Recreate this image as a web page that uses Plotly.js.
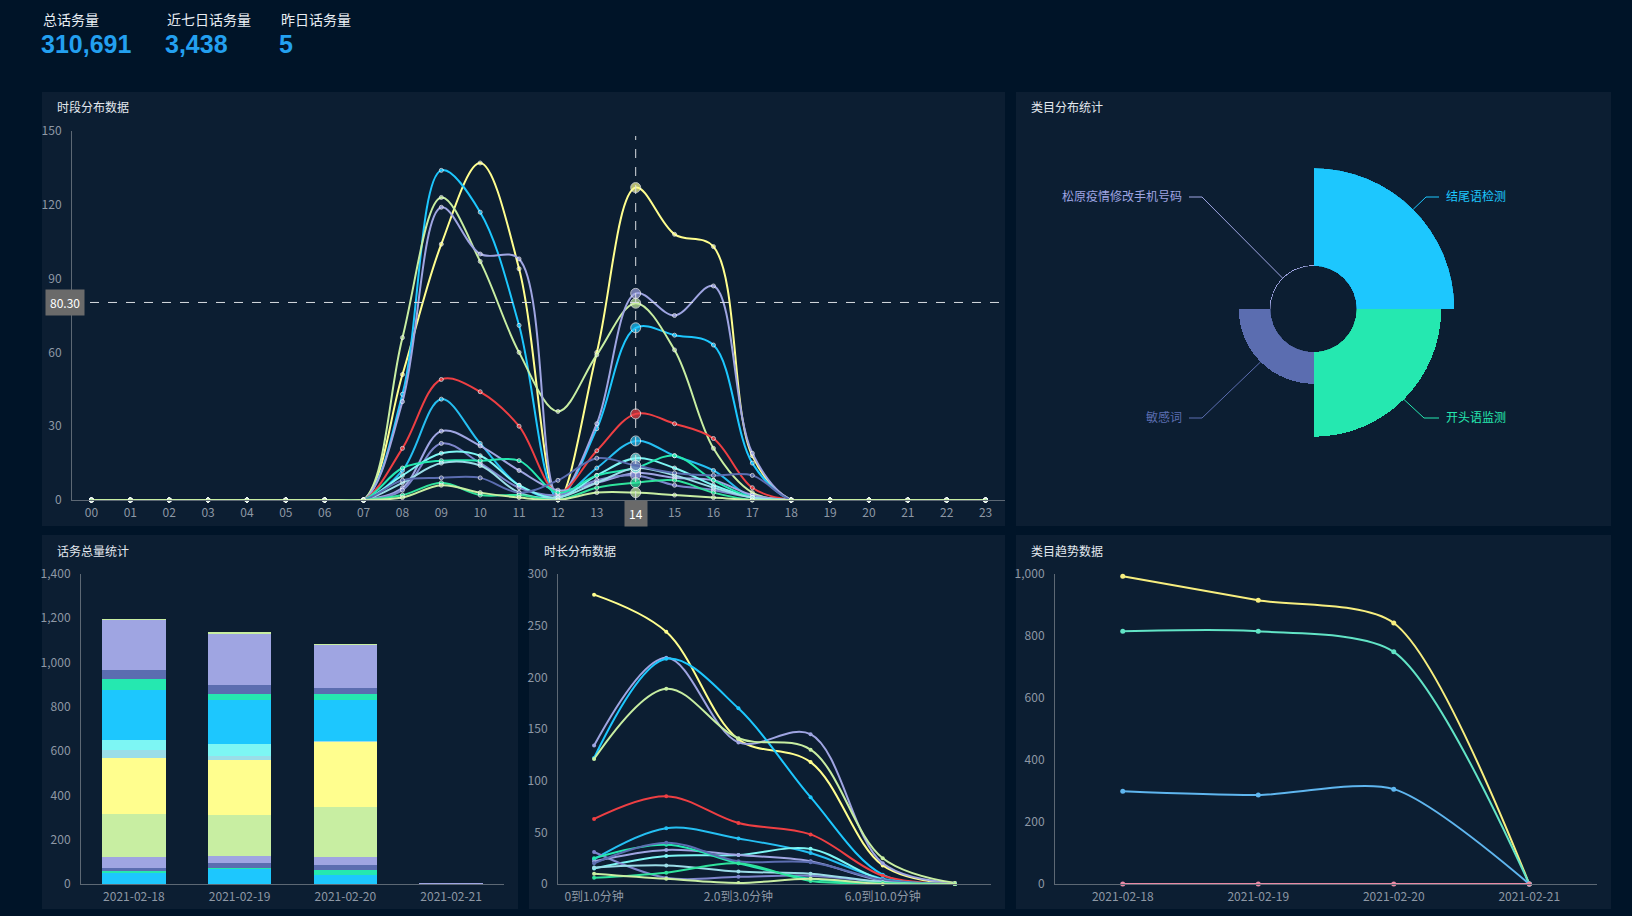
<!DOCTYPE html>
<html><head><meta charset="utf-8">
<script src="https://cdn.plot.ly/plotly-3.0.1.min.js"></script>
<style>html,body{margin:0;padding:0;background:#001428;overflow:hidden}#chart{width:1632px;height:916px}</style>
</head><body><div id="chart"></div><script>
const W=1632,H=916;
const px=x=>x/W, py=y=>1-y/H;

// ---------- header stats ----------
const statLabels=['总话务量','近七日话务量','昨日话务量'];
const statValues=[310691,3438,5];

// ---------- 时段分布数据 ----------
const hours=['00','01','02','03','04','05','06','07','08','09','10','11','12','13','14','15','16','17','18','19','20','21','22','23'];
const tlYellow     =[0,0,0,0,0,0,0,0,51,104,137,94,0,60,127,108,103,18,0,0,0,0,0,0];
const tlBlue       =[0,0,0,0,0,0,0,0,43,134,117,71,1,29,70,67,63,15,0,0,0,0,0,0];
const tlLightGreen =[0,0,0,0,0,0,0,0,66,123,97,60,36,59,80,61,21,3,0,0,0,0,0,0];
const tlLavender   =[0,0,0,0,0,0,0,0,40,119,100,98,2,31,84,75,87,19,0,0,0,0,0,0];
const tlRed        =[0,0,0,0,0,0,0,0,21,49,44,30,3,20,35,31,25,5,0,0,0,0,0,0];
const tlBlue2      =[0,0,0,0,0,0,0,0,12,41,23,6,1,13,24,18,12,1,0,0,0,0,0,0];
const tlLavender2  =[0,0,0,0,0,0,0,0,5,28,22,12,4,7,11,9,8,2,0,0,0,0,0,0];
const tlSlateLav   =[0,0,0,0,0,0,0,0,4,23,15,5,2,8,10,6,4,1,0,0,0,0,0,0];
const tlCyan       =[0,0,0,0,0,0,0,0,10,19,18,6,1,10,17,13,6,1,0,0,0,0,0,0];
const tlTeal       =[0,0,0,0,0,0,0,0,13,16,16,16,3,10,13,18,8,1,0,0,0,0,0,0];
const tlLightCyan  =[0,0,0,0,0,0,0,0,7,15,14,3,1,7,13,10,5,1,0,0,0,0,0,0];
const tlSlate      =[0,0,0,0,0,0,0,0,8,9,9,3,8,17,14,11,10,10,0,0,0,0,0,0];
const tlTeal2      =[0,0,0,0,0,0,0,0,2,7,2,2,0,5,7,8,3,0,0,0,0,0,0,0];
const tlLightGreen2=[0,0,0,0,0,0,0,0,1,6,3,1,0,3,3,2,1,0,0,0,0,0,0,0];
const focusHour='14';
const pointerValue=80.30;

// ---------- 话务总量统计 ----------
const dates=['2021-02-18','2021-02-19','2021-02-20','2021-02-21'];
const barS1 =[48,66,42,1];
const barS2 =[9,8,23,0];
const barS3 =[15,22,22,1];
const barS4 =[48,30,33,1];
const barS5 =[194,185,227,0];
const barS6 =[256,248,294,1];
const barS7 =[33,21,4,0];
const barS8 =[48,52,3,0];
const barS9 =[227,197,182,0];
const barS10=[48,28,29,0];
const barS11=[39,41,25,1];
const barS12=[226,233,194,0];
const barS13=[6,6,8,0];

// ---------- 时长分布数据 ----------
const durCats=['0到1.0分钟','1.0到2.0分钟','2.0到3.0分钟','3.0到6.0分钟','6.0到10.0分钟','10.0分钟以上'];
const durTickCats=['0到1.0分钟','2.0到3.0分钟','6.0到10.0分钟'];
const durYellow     =[280,244,140,118,18,0];
const durLavender   =[134,219,137,145,20,1];
const durBlue       =[122,218,170,84,9,0];
const durLightGreen =[121,189,141,130,25,1];
const durRed        =[63,85,59,48,8,0];
const durBlue2      =[24,54,44,30,5,0];
const durCyan       =[15,27,28,34,4,0];
const durSlate      =[31,6,7,8,2,0];
const durLavender2  =[22,33,28,22,3,0];
const durTeal       =[25,38,20,5,1,0];
const durSlate2     =[20,40,22,21,4,0];
const durLightCyan  =[16,18,12,10,2,0];
const durTeal2      =[6,11,20,3,1,0];
const durLightGreen2=[10,5,1,5,0,0];

// ---------- 类目分布统计 / 类目趋势数据 ----------
const categories=['结尾语检测','开头语监测','敏感词','松原疫情修改手机号码'];
const pieValues=[2750,2379,892,25];
const trendEnd  =[993,915,842,0];
const trendStart=[815,815,749,0];
const trendSens =[299,287,306,0];
const trendSong =[0,0,0,0];

// ---------- styles ----------
const C={blue:'#1dc7fe',teal:'#25e8b0',slate:'#5b6db0',lav:'#9fa5e2',lgreen:'#c8eea2',yellow:'#fffe8e',
  lcyan:'#9bdde8',cyan:'#7df6f4',red:'#ee3f43',slateLav:'#7e86cc',blue2:'#25bff2',teal2:'#2fe39c'};
const axisColor='#5d6874', tickColor='#8e98a5', titleColor='#e3e8ee';
const FONT='"Noto Sans CJK SC", "Noto Sans", sans-serif';

const traces=[];

// top-left lines
[[tlYellow,C.yellow],[tlBlue,C.blue],[tlLightGreen,C.lgreen],[tlLavender,C.lav],[tlRed,C.red],[tlBlue2,C.blue2],
 [tlLavender2,C.lav],[tlSlateLav,C.slateLav],[tlCyan,C.cyan],[tlTeal,C.teal],[tlLightCyan,C.lcyan],[tlSlate,C.slate],
 [tlTeal2,C.teal2],[tlLightGreen2,C.lgreen]].forEach(([v,c])=>{
  traces.push({type:'scatter',mode:'lines+markers',x:hours,y:v,xaxis:'x',yaxis:'y',cliponaxis:false,
    line:{color:c,width:2,shape:'spline',smoothing:1},
    marker:{color:c,size:hours.map(h=>h===focusHour?10:4)},hoverinfo:'skip'});
});

// stacked bars
[[barS1,C.blue],[barS2,C.teal],[barS3,C.slate],[barS4,C.lav],[barS5,C.lgreen],[barS6,C.yellow],[barS7,C.lcyan],
 [barS8,C.cyan],[barS9,C.blue],[barS10,C.teal],[barS11,C.slate],[barS12,C.lav],[barS13,C.lgreen]].forEach(([v,c])=>{
  traces.push({type:'bar',x:dates,y:v,xaxis:'x2',yaxis:'y2',marker:{color:c,line:{width:0}},hoverinfo:'skip'});
});

// duration lines
[[durYellow,C.yellow],[durLavender,C.lav],[durBlue,C.blue],[durLightGreen,C.lgreen],[durRed,C.red],[durBlue2,C.blue2],
 [durCyan,C.cyan],[durSlate,C.slateLav],[durLavender2,C.lav],[durTeal,C.teal],[durSlate2,C.slate],[durLightCyan,C.lcyan],
 [durTeal2,C.teal2],[durLightGreen2,C.lgreen]].forEach(([v,c])=>{
  traces.push({type:'scatter',mode:'lines+markers',x:durCats,y:v,xaxis:'x3',yaxis:'y3',cliponaxis:false,
    line:{color:c,width:2,shape:'spline',smoothing:1},marker:{color:c,size:4},hoverinfo:'skip'});
});

// trend lines
const trendColors=['#f7ee7f','#62e4c6','#5fb6ef','#e98aa5'];
[trendEnd,trendStart,trendSens,trendSong].forEach((v,i)=>{
  traces.push({type:'scatter',mode:'lines+markers',x:dates,y:v,xaxis:'x4',yaxis:'y4',cliponaxis:false,name:categories[i],
    line:{color:trendColors[i],width:2,shape:'spline',smoothing:0.75},marker:{color:trendColors[i],size:5},hoverinfo:'skip'});
});

// rose
const pieColors=[C.blue,C.teal,C.slate,C.lav];
traces.push({type:'barpolar',r:pieValues,theta:categories,subplot:'polar',marker:{color:pieColors,line:{width:0}},hoverinfo:'skip'});

// ---------- layout ----------
function xAx(d,extra){return Object.assign({domain:[px(d[0]),px(d[1])],type:'category',showline:true,linecolor:axisColor,linewidth:1,
  showgrid:false,zeroline:false,ticks:'',tickfont:{size:12,color:tickColor,family:FONT},ticklabelstandoff:2,fixedrange:true},extra);}
function yAx(d,extra){return Object.assign({domain:[py(d[1]),py(d[0])],showline:true,linecolor:axisColor,linewidth:1,
  showgrid:false,zeroline:false,ticks:'',tickfont:{size:12,color:tickColor,family:FONT},ticklabelstandoff:7,fixedrange:true},extra);}

const shapes=[];
const panels=[[42,92,1005,526],[1016,92,1611,526],[42,535,518,909],[529,535,1005,909],[1016,535,1611,909]];
panels.forEach(p=>shapes.push({type:'rect',xref:'paper',yref:'paper',x0:px(p[0]),x1:px(p[2]),y0:py(p[3]),y1:py(p[1]),
  fillcolor:'#0c1e32',line:{width:0},layer:'below'}));

// crosshair
const fIdx=hours.indexOf(focusHour);
shapes.push({type:'line',xref:'x',yref:'paper',x0:fIdx,x1:fIdx,y0:py(500),y1:py(136),line:{color:'#d9dde2',width:1,dash:'dash'}});
shapes.push({type:'line',xref:'paper',yref:'y',x0:px(72),x1:px(1005),y0:pointerValue,y1:pointerValue,line:{color:'#d9dde2',width:1,dash:'dash'}});

const annotations=[];
// header
const statX=[42,166,280];
statLabels.forEach((t,i)=>{
  annotations.push({xref:'paper',yref:'paper',x:px(statX[i]),y:py(29.5),xanchor:'left',yanchor:'bottom',showarrow:false,borderpad:0,
    text:t,font:{size:14,color:'#e8edf3',family:FONT}});
  annotations.push({xref:'paper',yref:'paper',x:px(statX[i]-2),y:py(29),xanchor:'left',yanchor:'top',showarrow:false,borderpad:0,
    text:statValues[i].toLocaleString('en-US'),font:{size:25,color:'#23a0f0',family:'"Liberation Sans", Arial, sans-serif',weight:700}});
});
// panel titles
[['时段分布数据',55,107],['类目分布统计',1029,107],['话务总量统计',55,550],['时长分布数据',542,550],['类目趋势数据',1029,550]].forEach(([t,x,y])=>{
  annotations.push({xref:'paper',yref:'paper',x:px(x),y:py(y),xanchor:'left',yanchor:'middle',showarrow:false,text:t,
    font:{size:12,color:titleColor,family:FONT}});
});
// pointer labels
annotations.push({xref:'paper',yref:'y',x:px(65),y:pointerValue,xanchor:'center',yanchor:'middle',showarrow:false,
  text:pointerValue.toFixed(2),bgcolor:'#6a6a6a',borderpad:4,font:{size:12,color:'#ffffff',family:FONT}});
annotations.push({xref:'x',yref:'paper',x:fIdx,y:py(513),xanchor:'center',yanchor:'middle',showarrow:false,
  text:focusHour,bgcolor:'#6a6a6a',borderpad:4,font:{size:12,color:'#ffffff',family:FONT}});

// rose geometry & labels
const cx=1313.5, cy=309, R=141, r0=43;
const maxV=Math.max(...pieValues);
const labelPos=[[1426,197,1439,'left'],[1424,418,1439,'left'],[1202,418,1189,'right'],[1202,197,1189,'right']];
categories.forEach((name,i)=>{
  const ang=(45+90*i)*Math.PI/180;
  const rr=r0+pieValues[i]/maxV*(R-r0);
  const sx=cx+rr*Math.sin(ang), sy=cy-rr*Math.cos(ang);
  const [ex,ey,hx,side]=labelPos[i];
  shapes.push({type:'path',xref:'paper',yref:'paper',
    path:`M ${px(sx)} ${py(sy)} L ${px(ex)} ${py(ey)} L ${px(hx)} ${py(ey)}`,line:{color:pieColors[i],width:1}});
  annotations.push({xref:'paper',yref:'paper',x:px(side==='left'?hx+5:hx-5),y:py(ey-1),xanchor:side,yanchor:'middle',showarrow:false,
    text:name,font:{size:12,color:pieColors[i],family:FONT}});
});

const layout={
  width:W,height:H,margin:{l:0,r:0,t:0,b:0},paper_bgcolor:'#001428',plot_bgcolor:'rgba(0,0,0,0)',
  showlegend:false,barmode:'stack',bargap:0.4,font:{family:FONT,color:tickColor,size:12},
  xaxis:xAx([72,1005],{anchor:'y',range:[-0.5,23.5],dtick:1}),
  yaxis:yAx([131,500],{anchor:'x',range:[0,150],tick0:0,dtick:30}),
  xaxis2:xAx([81,504],{anchor:'y2',range:[-0.5,3.5]}),
  yaxis2:yAx([574,884],{anchor:'x2',range:[0,1400],tick0:0,dtick:200,tickformat:',d'}),
  xaxis3:xAx([558,991],{anchor:'y3',range:[-0.5,5.5],categoryorder:'array',categoryarray:durCats,tickvals:durTickCats,ticktext:durTickCats}),
  yaxis3:yAx([574,884],{anchor:'x3',range:[0,300],tick0:0,dtick:50}),
  xaxis4:xAx([1055,1597],{anchor:'y4',range:[-0.5,3.5]}),
  yaxis4:yAx([574,884],{anchor:'x4',range:[0,1000],tick0:0,dtick:200,tickformat:',d'}),
  polar:{domain:{x:[px(cx-R),px(cx+R)],y:[py(cy+R),py(cy-R)]},hole:r0/R,bgcolor:'rgba(0,0,0,0)',bargap:0,
    angularaxis:{visible:false,type:'category',rotation:45,direction:'clockwise'},
    radialaxis:{visible:false,range:[0,maxV]}},
  shapes:shapes,annotations:annotations
};
Plotly.newPlot('chart',traces,layout,{displayModeBar:false,staticPlot:true});
</script></body></html>
